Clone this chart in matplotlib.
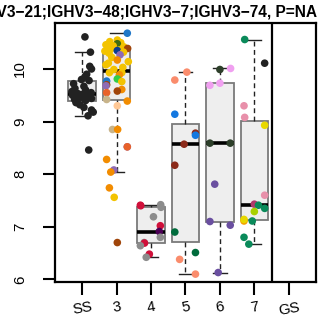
import numpy as np
import matplotlib
matplotlib.use("Agg")
import matplotlib.pyplot as plt

plt.rcParams['font.family'] = ['Liberation Sans', 'DejaVu Sans']

# ---- data -------------------------------------------------------------
categories = ['SS', '3', '4', '5', '6', '7', 'GS']
title_text = 'IGHV3\u221221;IGHV3\u221248;IGHV3\u22127;IGHV3\u221274, P=NA'

BLK = '#222222'; YEL = '#F3C300'; ORA = '#F28C00'; ORD = '#E8622A'
BRN = '#A0450A'; NAV = '#0B3D91'; DGR = '#3F6B10'; BLU = '#1F77C8'
PUR = '#8E6BB5'; GRN = '#33CC44'; TAN = '#C8B48A'; PEA = '#FFC896'
GRY = '#8C8C8C'; CRM = '#D0103A'; DPU = '#4B0055'
SAL = '#FA8C6C'; BL5 = '#1478E0'; BR5 = '#8B2A1A'; DG5 = '#006B3C'
DRK = '#2D3F2A'; PLM = '#F0A0F0'; VIO = '#6A4FA0'
GR7 = '#0A8A5A'; PK7 = '#E890AA'; YE7 = '#E8D800'; MAG = '#B03A6A'
LIM = '#A8D000'; OR7 = '#F5A000'

ss_vals = [10.61, 10.32, 10.05, 10.00, 9.90, 9.85, 9.80, 9.78, 9.72, 9.67,
           9.63, 9.60, 9.57, 9.55, 9.53, 9.52, 9.50, 9.48, 9.46, 9.44,
           9.42, 9.40, 9.36, 9.32, 9.27, 9.22, 9.18, 9.11, 8.46]
ss_cols = [BLK] * len(ss_vals)
ss_jit = [0.08, 0.24, 0.22, 0.27, 0.13, 0.08, -0.02, 0.20, -0.25, 0.05,
          -0.21, 0.10, -0.30, 0.26, -0.12, 0.02, -0.28, 0.15, -0.05, 0.27,
          -0.22, 0.10, -0.18, -0.07, 0.05, 0.27, 0.32, 0.17, 0.19]

g3_vals = [10.68, 10.55, 10.52, 10.50, 10.48, 10.46, 10.44, 10.42, 10.40, 10.39,
           10.38, 10.36, 10.35, 10.34, 10.32, 10.30, 10.27, 10.22, 10.17, 10.14,
           10.11, 10.08, 10.03, 9.99, 9.93, 9.93, 9.89, 9.81, 9.77, 9.76,
           9.70, 9.68, 9.61, 9.58, 9.55, 9.42, 9.39, 9.30, 8.85, 8.85,
           8.52, 8.52, 8.28, 8.08, 8.04, 7.74, 7.56, 6.70]
g3_cols = [BLU, YEL, YEL, YEL, DGR, YEL, YEL, YEL, YEL, BRN,
           YEL, YEL, NAV, YEL, YEL, YEL, PUR, YEL, ORA, YEL,
           YEL, YEL, YEL, YEL, YEL, YEL, ORA, GRN, BLU, YEL,
           BRN, PUR, ORA, BRN, ORD, TAN, ORA, PEA, TAN, ORA,
           PUR, ORD, ORA, PUR, ORA, ORA, YEL, BRN]
g3_jit = [0.31, 0.02, -0.20, 0.12, 0.02, -0.31, -0.10, 0.21, -0.25, 0.32,
          -0.17, 0.07, 0.02, -0.34, 0.20, -0.22, 0.10, -0.14, 0.02, 0.34,
          -0.24, -0.31, 0.18, -0.08, -0.21, 0.15, 0.08, 0.02, -0.29, 0.15,
          -0.29, -0.31, 0.15, 0.02, -0.29, -0.29, 0.31, 0.02, -0.12, 0.03,
          0.31, 0.31, -0.29, -0.08, -0.17, -0.21, -0.07, 0.02]

g4_vals = [7.42, 7.40, 7.41, 7.37, 7.19, 7.02, 6.91, 6.80, 6.70, 6.69, 6.64, 6.48, 6.42]
g4_cols = [GRY, CRM, CRM, GRY, GRY, CRM, DPU, GRY, GRY, CRM, GRY, CRM, GRY]
g4_jit = [0.28, -0.30, -0.31, 0.29, 0.07, 0.27, 0.24, 0.27, -0.20, -0.19, -0.31, -0.05, -0.14]

g5_vals = [9.94, 9.79, 9.14, 8.78, 8.74, 8.57, 8.17, 6.90, 6.51, 6.38, 6.10]
g5_cols = [SAL, SAL, BL5, BR5, BL5, BR5, BR5, DG5, DG5, SAL, SAL]
g5_jit = [0.04, -0.31, -0.31, 0.29, 0.29, -0.04, -0.31, -0.31, 0.29, -0.17, 0.29]

g6_vals = [10.01, 9.99, 9.73, 9.69, 8.59, 8.59, 7.81, 7.10, 7.03, 6.13]
g6_cols = [PLM, DRK, PLM, PLM, DRK, DRK, VIO, VIO, VIO, VIO]
g6_jit = [0.31, 0.00, 0.00, -0.29, -0.29, 0.30, -0.15, -0.29, 0.30, -0.05]

g7_vals = [10.56, 10.11, 9.30, 9.08, 8.93, 7.60, 7.43, 7.41, 7.35, 7.29,
           7.11, 7.14, 7.11, 6.80, 6.67]
g7_cols = [GR7, BLK, PK7, PK7, YE7, PK7, MAG, GR7, GR7, LIM,
           OR7, YE7, GR7, GR7, GR7]
g7_jit = [-0.28, 0.30, -0.30, -0.28, 0.30, 0.30, 0.00, 0.12, 0.30, 0.00,
          -0.30, -0.30, -0.06, -0.30, -0.16]

groups = [(ss_vals, ss_cols, ss_jit), (g3_vals, g3_cols, g3_jit),
          (g4_vals, g4_cols, g4_jit), (g5_vals, g5_cols, g5_jit),
          (g6_vals, g6_cols, g6_jit), (g7_vals, g7_cols, g7_jit)]


def tukey_stats(vals):
    """Box statistics with Tukey hinges (fivenum) and 1.5*IQR whiskers."""
    x = np.sort(np.asarray(vals, dtype=float))
    n = len(x)
    n4 = np.floor((n + 3) / 2) / 2
    d = np.array([1, n4, (n + 1) / 2, n + 1 - n4, n]) - 1
    fn = 0.5 * (x[np.floor(d).astype(int)] + x[np.ceil(d).astype(int)])
    q1, med, q3 = fn[1], fn[2], fn[3]
    iqr = q3 - q1
    lo = x[x >= q1 - 1.5 * iqr].min()
    hi = x[x <= q3 + 1.5 * iqr].max()
    return dict(med=med, q1=q1, q3=q3, whislo=lo, whishi=hi, fliers=[])


# ---- figure -----------------------------------------------------------
fig = plt.figure(figsize=(3.25, 3.27), dpi=100)
ax = fig.add_axes([0.1692, 0.1376, 0.803, 0.793])

positions = np.arange(1, len(groups) + 1)
stats = [tukey_stats(g[0]) for g in groups]
ax.bxp(stats, positions=positions, widths=0.8, capwidths=0.4,
       showfliers=False, patch_artist=True,
       boxprops=dict(facecolor='#EEEEEE', edgecolor='#7A7A7A', linewidth=1.3),
       medianprops=dict(color='black', linewidth=2.6, solid_capstyle='butt'),
       whiskerprops=dict(color='#222222', linewidth=1.0, linestyle=(0, (3.5, 2.5))),
       capprops=dict(color='#222222', linewidth=1.0))

for pos, (vals, cols, jit) in zip(positions, groups):
    ax.scatter(pos + np.asarray(jit), vals, s=30, c=cols, linewidths=0, zorder=3)

ax.axvline(6.5, color='black', linewidth=1.6)

ax.set_xlim(0.21, 7.79)
ax.set_ylim(5.95, 10.88)
ax.set_xticks(np.arange(1, len(categories) + 1))
ax.set_xticklabels(categories, rotation=10)
ax.set_yticks([6, 7, 8, 9, 10])
ax.set_yticklabels(['6', '7', '8', '9', '10'], rotation=90, va='center')

for sp in ax.spines.values():
    sp.set_linewidth(1.6)
ax.tick_params(axis='both', length=9, width=1.5, labelsize=10.8)
ax.tick_params(axis='x', pad=4)
ax.tick_params(axis='y', pad=11)

fig.text(0.441, 0.950, title_text, ha='center', va='baseline',
         fontsize=11.2, fontweight='bold')

fig.savefig('out.png', dpi=100)
